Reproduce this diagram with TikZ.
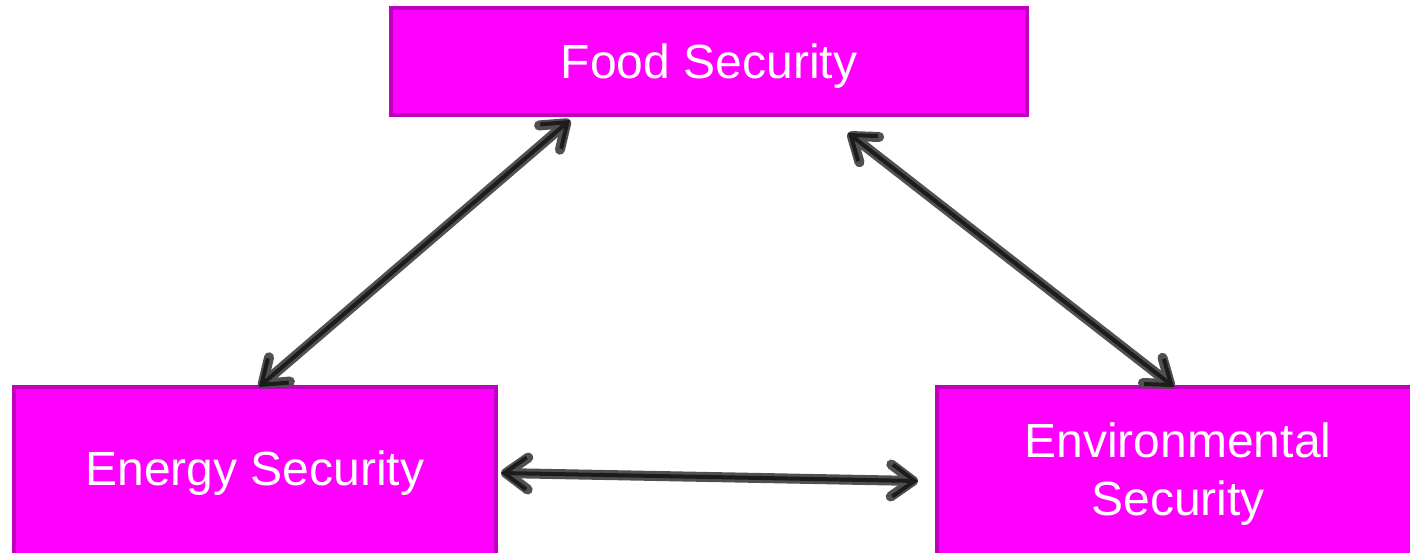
\documentclass[tikz,border=0pt]{standalone}
\usepackage{fontspec}
\setmainfont{Liberation Sans}
\usetikzlibrary{arrows.meta}
\definecolor{mag}{HTML}{FF00FF}
\definecolor{magb}{HTML}{BF00BF}
\definecolor{halocol}{HTML}{505050}
\definecolor{corecol}{HTML}{1C1C1C}
\begin{document}
\begin{tikzpicture}[x=1pt,y=-1pt,
  boxbg/.style={draw=magb, fill=mag, line width=4.5pt},
  label/.style={text=white, font=\fontsize{48}{58}\selectfont, align=center, inner sep=0pt},
  halo/.style={draw=halocol, line width=10pt, line cap=round, line join=round,
    {Straight Barb[length=22pt,width=32pt,round]}-{Straight Barb[length=22pt,width=32pt,round]}},
  core/.style={draw=corecol, line width=4pt, line cap=round, line join=round,
    {Straight Barb[length=22pt,width=32pt]}-{Straight Barb[length=22pt,width=32pt]}}]
\useasboundingbox (0,0) rectangle (1410,552);
\clip (0,0) rectangle (1410,552);
\fill[white] (0,0) rectangle (1410,552);
\path[boxbg] (391,8) rectangle (1027,115);
\path[boxbg] (14,387) rectangle (496,620);
\path[boxbg] (937,387) rectangle (1480,620);
\node[label] (food) at (709,66) {Food Security};
\node[label] (energy) at (255,473) {Energy Security};
\node[label] (env) at (1178,474) {Environmental\\Security};
\coordinate (f1) at (570,120);
\coordinate (e1) at (259,387);
\coordinate (f2) at (848,133);
\coordinate (v1) at (1174,387);
\coordinate (e2) at (501,473);
\coordinate (v2) at (918,481);
\foreach \a/\b in {f1/e1, f2/v1, e2/v2}{
  \draw[halo] (\a) -- (\b);
  \draw[core] (\a) -- (\b);
}
\end{tikzpicture}
\end{document}
